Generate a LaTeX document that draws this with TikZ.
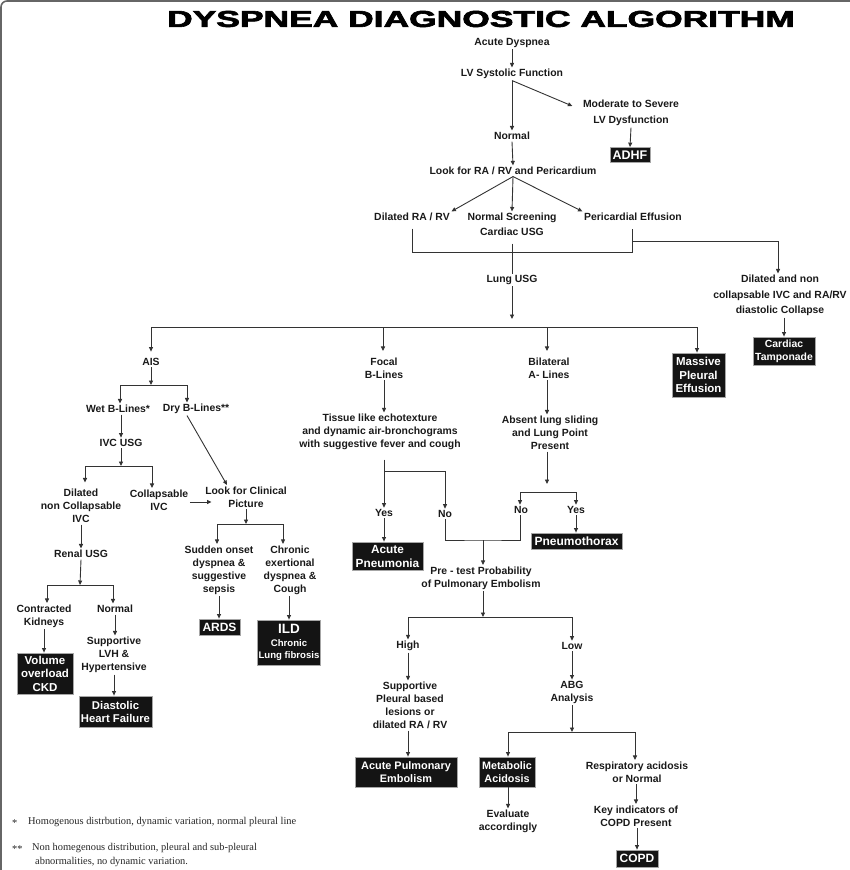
\documentclass[tikz,border=0pt]{standalone}
\usepackage{fontspec}
\usepackage{graphicx}
\setmainfont{Liberation Sans}
\newfontfamily\titlefont{Liberation Sans}[BoldFeatures={FakeBold=2.5}]
\newfontfamily\footfont{Liberation Serif}
\usetikzlibrary{arrows.meta,calc}
\begin{document}
\begin{tikzpicture}[x=1pt,y=-1pt,
  tx/.style={font=\bfseries\fontsize{10.4}{13}\selectfont, align=center, inner sep=1.5pt, text=black!90},
  bx/.style={fill=black!92, draw=black!35, line width=0.8pt, text=white, align=center, inner sep=1pt, font=\bfseries\fontsize{11.5}{13.5}\selectfont},
  arr/.style={-{Triangle[length=4.5pt,width=4pt]}, line width=0.9pt, draw=black!80},
  ln/.style={line width=0.9pt, draw=black!80},
  foot/.style={font=\footfont\fontsize{10.4}{12}\selectfont, inner sep=0pt, anchor=west, text=black!85}
]
\useasboundingbox (0,0) rectangle (850,870);
\draw[black!60, line width=1.6pt, rounded corners=6pt] (1,870) -- (1,1) -- (850,1);

\node (title) at (481,19) {\titlefont\bfseries\fontsize{23}{23}\selectfont\scalebox{1.54}[1]{DYSPNEA DIAGNOSTIC ALGORITHM}};

% top part
\node[tx] (acute) at (512,43) {Acute Dyspnea};
\node[tx] (lv) at (512,74) {LV Systolic Function};
\node[tx] (normal1) at (512,136) {Normal};
\node[tx, font=\bfseries\fontsize{10.4}{16}\selectfont] (mod) at (631,113) {Moderate to Severe\\LV Dysfunction};
\node[bx, font=\bfseries\fontsize{12.5}{14}\selectfont, minimum width=40pt, minimum height=15pt] (adhf) at (630,155) {ADHF};
\node[tx] (look) at (513,171) {Look for RA / RV and Pericardium};
\node[tx] (dil) at (412,217) {Dilated RA / RV};
\node[tx, font=\bfseries\fontsize{10.4}{15}\selectfont] (nsc) at (512,224.5) {Normal Screening\\Cardiac USG};
\node[tx] (peri) at (633,217) {Pericardial Effusion};
\node[tx] (lung) at (512,280) {Lung USG};
\node[tx, font=\bfseries\fontsize{10.4}{15.5}\selectfont] (tamptxt) at (780,295.5) {Dilated and non\\collapsable IVC and RA/RV\\diastolic Collapse};
\node[bx, font=\bfseries\fontsize{10.4}{13}\selectfont, minimum width=62pt, minimum height=28pt] (tampbox) at (784,351) {Cardiac\\Tamponade};

% second level
\node[tx] (ais) at (151,362) {AIS};
\node[tx] (focal) at (384,368) {Focal\\B-Lines};
\node[tx] (bilat) at (549,368) {Bilateral\\A- Lines};
\node[bx, minimum width=53pt, minimum height=44pt] (mpe) at (698.5,375) {Massive\\Pleural\\Effusion};

% AIS branch
\node[tx] (wet) at (118,409) {Wet B-Lines*};
\node[tx] (dry) at (196,409) {Dry B-Lines**};
\node[tx] (ivc) at (121,443) {IVC USG};
\node[tx] (dilivc) at (81,506) {Dilated\\non Collapsable\\IVC};
\node[tx] (colivc) at (159,500) {Collapsable\\IVC};
\node[tx] (clin) at (246,497) {Look for Clinical\\Picture};
\node[tx] (renal) at (81,554) {Renal USG};
\node[tx] (contr) at (44,616) {Contracted\\Kidneys};
\node[tx] (norm2) at (115,609) {Normal};
\node[tx] (supp) at (114,655) {Supportive\\LVH \&\\Hypertensive};
\node[bx, minimum width=56pt, minimum height=41pt] (vol) at (45,673.5) {Volume\\overload\\CKD};
\node[bx, font=\bfseries\fontsize{11.3}{13}\selectfont, minimum width=73pt, minimum height=31pt] (dhf) at (115.5,711.5) {Diastolic\\Heart Failure};
\node[tx] (sud) at (219,570) {Sudden onset\\dyspnea \&\\suggestive\\sepsis};
\node[tx] (chr) at (290,570) {Chronic\\exertional\\dyspnea \&\\Cough};
\node[bx, font=\bfseries\fontsize{12}{14}\selectfont, minimum width=41pt, minimum height=16pt] (ards) at (219.5,627) {ARDS};
\node[bx, font=\bfseries\fontsize{9.6}{12.5}\selectfont, minimum width=62pt, minimum height=45pt] (ild) at (289,642.5) {{\fontsize{13.5}{15}\selectfont ILD}\\Chronic\\Lung fibrosis};

% focal / bilateral branch
\node[tx] (tissue) at (380,432) {Tissue like echotexture\\and dynamic air-bronchograms\\with suggestive fever and cough};
\node[tx] (absent) at (550,433) {Absent lung sliding\\and Lung Point\\Present};
\node[tx] (yes1) at (384,513) {Yes};
\node[tx] (no1) at (445,514) {No};
\node[tx] (no2) at (521,510) {No};
\node[tx] (yes2) at (576,510) {Yes};
\node[bx, font=\bfseries\fontsize{11.8}{14}\selectfont, minimum width=71pt, minimum height=28pt] (pneu) at (387.5,556) {Acute\\Pneumonia};
\node[bx, font=\bfseries\fontsize{12}{14}\selectfont, minimum width=91pt, minimum height=16pt] (ptx) at (576.5,541) {Pneumothorax};

% PE branch
\node[tx] (pre) at (481,578) {Pre - test Probability\\of Pulmonary Embolism};
\node[tx] (high) at (408,646) {High};
\node[tx] (low) at (572,646) {Low};
\node[tx] (suppl) at (410,705.5) {Supportive\\Pleural based\\lesions or\\dilated RA / RV};
\node[tx] (abg) at (572,692.5) {ABG\\Analysis};
\node[bx, font=\bfseries\fontsize{10.9}{13}\selectfont, minimum width=102pt, minimum height=30pt] (ape) at (406,772) {Acute Pulmonary\\Embolism};
\node[bx, font=\bfseries\fontsize{10.8}{13}\selectfont, minimum width=56pt, minimum height=30pt] (meta) at (507,772) {Metabolic\\Acidosis};
\node[tx] (resp) at (637,772) {Respiratory acidosis\\or Normal};
\node[tx] (eval) at (508,821.5) {Evaluate\\accordingly};
\node[tx] (key) at (636,816) {Key indicators of\\COPD Present};
\node[bx, font=\bfseries\fontsize{12}{14}\selectfont, minimum width=42pt, minimum height=17pt] (copd) at (637,858.5) {COPD};

% footnotes
\node[foot] (f1s) at (12,823) {*};
\node[foot] (f1) at (28,822) {Homogenous distrbution, dynamic variation, normal pleural line};
\node[foot] (f2s) at (12,849) {**};
\node[foot] (f2) at (32,848) {Non homegenous distribution, pleural and sub-pleural};
\node[foot] (f3) at (35,862) {abnormalities, no dynamic variation.};

% connectors - top
\draw[arr] (acute.south) -- (lv.north);
\draw[arr] (lv.south) -- (normal1.north);
\draw[arr] (lv.south) -- ([xshift=-9pt,yshift=7pt]mod.west);
\draw[arr] (mod.south) -- (adhf.north);
\draw[arr] (normal1.south) -- (look.north);
\draw[arr] (look.south) -- (dil.north east);
\draw[arr] (look.south) -- (nsc.north);
\draw[arr] (look.south) -- (peri.north west);
\coordinate (b0) at (512,252);
\draw[ln] ([yshift=-6pt]dil.south) -- (dil.south |- b0) -- ([xshift=-1pt]peri.south |- b0) -- ([xshift=-1pt,yshift=-6pt]peri.south);
\draw[ln] ([yshift=-6pt]nsc.south) -- (lung.north);
\coordinate (b1) at (632,241);
\draw[arr] (b1) -| ([xshift=-2pt]tamptxt.north);
\draw[arr] (tampbox.north |- tamptxt.south) -- (tampbox.north);
\coordinate (lu) at (512,319);
\draw[arr] (lung.south) -- (lu);
\coordinate (b2) at (512,327);
\draw[arr] (b2) -| ([yshift=5pt]ais.north);
\draw[arr] (b2) -| ([xshift=-1pt,yshift=5pt]focal.north);
\draw[arr] (b2) -| ([xshift=-2pt,yshift=5pt]bilat.north);
\draw[arr] (b2) -| ([xshift=-1.5pt]mpe.north);

% AIS branch
\coordinate (b3) at (151,385);
\draw[arr] (ais.south) -- (b3);
\draw[arr] (b3) -| ([xshift=2pt]wet.north);
\draw[arr] (b3) -| ([xshift=-9pt]dry.north);
\draw[arr] (ivc.north |- wet.south) -- (ivc.north);
\coordinate (b4) at (121,466);
\draw[arr] (ivc.south) -- (b4);
\draw[arr] (b4) -| ([xshift=4pt,yshift=5pt]dilivc.north);
\draw[arr] (b4) -| ([xshift=-7pt]colivc.north);
\draw[arr] ([xshift=-9pt]dry.south) -- ([xshift=-19pt]clin.north);
\draw[arr] ([yshift=-2pt]colivc.east) -- ([xshift=8pt,yshift=-5pt]clin.west);
\coordinate (b5) at (246,524);
\draw[arr] (clin.south) -- (b5);
\draw[arr] (b5) -| ([xshift=-2pt]sud.north);
\draw[arr] (b5) -| ([xshift=-7pt]chr.north);
\draw[arr] (sud.south) -- (sud.south |- ards.north);
\draw[arr] (ild.north |- chr.south) -- (ild.north);
\draw[arr] (dilivc.south) -- (renal.north);
\coordinate (b6) at (80,585);
\draw[arr] (renal.south) -- (b6);
\draw[arr] (b6) -| ([xshift=3pt]contr.north);
\draw[arr] (b6) -| ([xshift=-2pt]norm2.north);
\draw[arr] (contr.south) -- (contr.south |- vol.north);
\draw[arr] (norm2.south) -- (norm2.south |- supp.north);
\draw[arr] (supp.south) -- (supp.south |- dhf.north);

% focal / bilateral
\draw[arr] (focal.south) -- (focal.south |- tissue.north);
\draw[arr] ([yshift=-8pt]yes1.north |- tissue.south) -- (yes1.north);
\coordinate (b7) at (384,471);
\draw[arr] (b7) -| (no1.north);
\draw[arr] (yes1.south) -- (yes1.south |- pneu.north);
\coordinate (b8) at (483,540);
\draw[ln] (no1.south) |- (b8) -| ([xshift=-1pt]no2.south);
\draw[arr] (b8) -- (b8 |- pre.north);
\draw[arr] ([xshift=-2pt]bilat.south) -- ([xshift=-2pt]bilat.south |- absent.north);
\coordinate (b9) at (547,484);
\draw[arr] (absent.south -| b9) -- (b9);
\coordinate (b10) at (547,492);
\draw[ln] ([xshift=-1pt]no2.north |- b10) -- (yes2.north |- b10);
\draw[arr] (b10) -| ([xshift=-1pt]no2.north);
\draw[arr] (b10) -| (yes2.north);
\draw[arr] (yes2.south) -- (yes2.south |- ptx.north);

% PE branch
\coordinate (b12) at (483,617);
\draw[arr] (pre.south -| b12) -- (b12);
\draw[arr] (b12) -| (high.north);
\draw[arr] (b12) -| (low.north);
\draw[arr] (high.south) -- (high.south |- suppl.north);
\draw[arr] (high.south |- suppl.south) -- (high.south |- ape.north);
\draw[arr] (low.south) -- (abg.north);
\coordinate (b13) at (572,732);
\draw[arr] (abg.south) -- (b13);
\draw[arr] (b13) -| ([xshift=1pt]meta.north);
\draw[arr] (b13) -| ([xshift=-2pt]resp.north);
\draw[arr] ([xshift=1pt]meta.south) -- ([xshift=1pt]meta.south |- eval.north);
\draw[arr] ([xshift=-1pt]resp.south) -- ([xshift=-1pt]resp.south |- key.north);
\draw[arr] (key.south -| copd.north) -- (copd.north);
\end{tikzpicture}
\end{document}
